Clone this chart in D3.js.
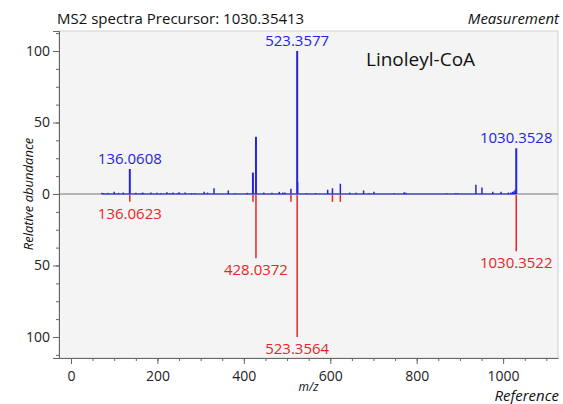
<!DOCTYPE html>
<html>
<head>
<meta charset="utf-8">
<script src="https://cdn.jsdelivr.net/npm/d3@7"></script>
<style>
  body { margin: 0; background: #fff; }
  text { font-family: "Open Sans", sans-serif; }
</style>
</head>
<body>
<script>
// spectrum data: measured (up, blue) and reference (down, red)
const measMz  = [71, 75, 85, 100, 110, 121, 136.0608, 150, 162, 166, 185, 199, 208, 222, 229, 236, 246, 250, 264, 279, 287, 308, 316, 331, 364, 380, 408,
                 421, 428.0372, 446, 465, 482, 490, 495, 509, 523.3577, 524.4, 545, 566, 594, 605, 623.3, 645, 660, 677, 690, 701, 748, 771, 775,
                 870, 890, 895, 937, 951, 976, 995, 1012, 1018, 1022, 1025, 1028, 1030.3528];
const measInt = [0.8, 0.6, 0.8, 1.6, 0.8, 1, 17.5, 0.8, 0.5, 1, 1, 0.8, 0.5, 1.2, 0.6, 1, 0.5, 1.2, 1, 0.6, 0.6, 1.6, 1, 4, 2.5, 0.6, 0.8,
                 15, 40, 1, 0.8, 1.5, 1, 1, 3.7, 100, 8.5, 0.6, 0.6, 3, 4, 7.2, 1, 0.8, 2.5, 0.5, 1.5, 0.6, 1.2, 0.8,
                 0.6, 0.6, 0.6, 6.5, 4.5, 1.5, 1.5, 1, 1, 1.5, 2, 3, 32];
const refMz   = [136.0623, 421, 428.0372, 509, 523.3564, 605, 623.3, 1030.3522];
const refInt  = [5.5, 5.5, 45, 5.5, 100, 5.5, 5.5, 40];

// labelled peaks
const measLabels = [136.0608, 523.3577, 1030.3528];
const measLabelInt = [17.5, 100, 32];
const refLabels = [136.0623, 428.0372, 523.3564, 1030.3522];
const refLabelInt = [5.5, 45, 100, 40];

const xMajor = [0, 200, 400, 600, 800, 1000];
const yMajor = [-100, -50, 0, 50, 100];

const width = 563, height = 404;
const margin = { top: 31, right: 5, bottom: 46, left: 59 };
const blue = "#2424e0", red = "#e52626";

const svg = d3.select("body").append("svg")
  .attr("width", width)
  .attr("height", height);

const x = d3.scaleLinear()
  .domain([-27.8, 1127])
  .range([margin.left, width - margin.right]);

const y = d3.scaleLinear()
  .domain([-114.7, 114])
  .range([height - margin.bottom, margin.top]);

// plot background
svg.append("rect")
  .attr("x", margin.left).attr("y", margin.top)
  .attr("width", width - margin.right - margin.left)
  .attr("height", height - margin.bottom - margin.top)
  .attr("fill", "#f4f4f4")
  .attr("stroke", "#d0d0d0");

// zero line
svg.append("line")
  .attr("x1", margin.left).attr("x2", width - margin.right)
  .attr("y1", y(0)).attr("y2", y(0))
  .attr("stroke", "#777").attr("stroke-width", 1);

// blue baseline along measured range
svg.append("line")
  .attr("x1", x(d3.min(measMz))).attr("x2", x(d3.max(measMz)))
  .attr("y1", y(0)).attr("y2", y(0))
  .attr("stroke", blue).attr("stroke-width", 1.2);

// measured peaks
svg.append("g").selectAll("line")
  .data(measMz)
  .join("line")
    .attr("x1", d => x(d)).attr("x2", d => x(d))
    .attr("y1", y(0))
    .attr("y2", (d, i) => y(measInt[i]))
    .attr("stroke", blue)
    .attr("stroke-width", (d, i) => measInt[i] > 10 ? 2 : 1.5);

// reference peaks (drawn downward)
svg.append("g").selectAll("line")
  .data(refMz)
  .join("line")
    .attr("x1", d => x(d)).attr("x2", d => x(d))
    .attr("y1", y(0) + 1)
    .attr("y2", (d, i) => y(-refInt[i]))
    .attr("stroke", red)
    .attr("stroke-width", 1.5);

// peak labels
svg.append("g").selectAll("text")
  .data(measLabels)
  .join("text")
    .attr("x", d => x(d))
    .attr("y", (d, i) => y(measLabelInt[i]) - 5)
    .attr("text-anchor", "middle")
    .attr("font-size", "15px")
    .attr("fill", blue)
    .text(d => d.toFixed(4));

svg.append("g").selectAll("text")
  .data(refLabels)
  .join("text")
    .attr("x", d => x(d))
    .attr("y", (d, i) => y(-refLabelInt[i]) + 17)
    .attr("text-anchor", "middle")
    .attr("font-size", "15px")
    .attr("fill", red)
    .text(d => d.toFixed(4));

// axes
const yAxis = svg.append("g")
  .attr("transform", `translate(${margin.left},0)`)
  .call(d3.axisLeft(y).tickValues(yMajor).tickSize(6).tickFormat(d => Math.abs(d)));
svg.append("g")
  .attr("transform", `translate(${margin.left},0)`)
  .call(d3.axisLeft(y).tickValues(d3.range(-112.5, 113, 12.5)).tickSize(3).tickFormat(""))
  .select(".domain").remove();

const xAxis = svg.append("g")
  .attr("transform", `translate(0,${height - margin.bottom})`)
  .call(d3.axisBottom(x).tickValues(xMajor).tickSize(6).tickSizeOuter(0).tickFormat(d3.format("d")));
svg.append("g")
  .attr("transform", `translate(0,${height - margin.bottom})`)
  .call(d3.axisBottom(x).tickValues(d3.range(0, 1101, 50)).tickSize(3).tickFormat(""))
  .select(".domain").remove();

svg.selectAll(".tick line, .domain").attr("stroke", "#666");
svg.selectAll(".tick text")
  .attr("font-family", "Open Sans, sans-serif")
  .attr("font-size", "14px")
  .attr("fill", "#222");
xAxis.selectAll(".tick text").attr("dy", "1em");

// titles
svg.append("text")
  .attr("x", 57).attr("y", 24)
  .attr("font-size", "15px").attr("fill", "#111")
  .text("MS2 spectra Precursor: 1030.35413");

svg.append("text")
  .attr("x", width - 4).attr("y", 24)
  .attr("text-anchor", "end")
  .attr("font-size", "15px").attr("font-style", "italic").attr("fill", "#111")
  .text("Measurement");

svg.append("text")
  .attr("x", 366).attr("y", 66)
  .attr("font-size", "19px").attr("fill", "#111")
  .text("Linoleyl-CoA");

svg.append("text")
  .attr("x", (margin.left + width - margin.right) / 2).attr("y", 391)
  .attr("text-anchor", "middle")
  .attr("font-size", "12px").attr("font-style", "italic").attr("fill", "#111")
  .text("m/z");

svg.append("text")
  .attr("x", width - 4).attr("y", 401)
  .attr("text-anchor", "end")
  .attr("font-size", "15px").attr("font-style", "italic").attr("fill", "#111")
  .text("Reference");

svg.append("text")
  .attr("transform", `translate(33,${y(0)}) rotate(-90)`)
  .attr("text-anchor", "middle")
  .attr("font-size", "13px").attr("font-style", "italic").attr("fill", "#111")
  .text("Relative abundance");
</script>
</body>
</html>
